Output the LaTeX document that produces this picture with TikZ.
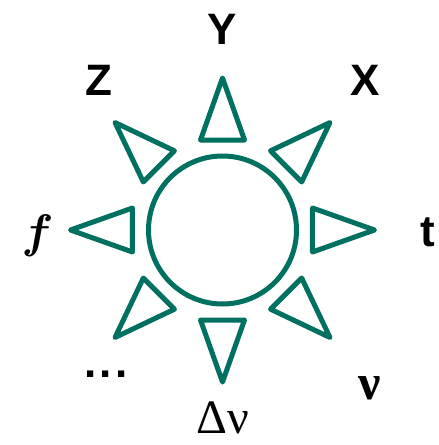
\documentclass[tikz,border=0pt]{standalone}
\usepackage{fontspec}
\setmainfont{Liberation Serif}
\setsansfont{Liberation Sans}
\usetikzlibrary{positioning}
\definecolor{rayTeal}{RGB}{0, 112, 96}

\begin{document}
\begin{tikzpicture}[x=1pt, y=1pt, thick]
    \tikzstyle{ray} = [draw=rayTeal, line width=5pt, line join=round]
    \tikzstyle{axis} = [font=\fontsize{44}{48}\selectfont\sffamily\bfseries, inner sep=0pt]
    \tikzstyle{greek} = [font=\fontsize{48}{52}\selectfont\rmfamily, inner sep=0pt]
    \useasboundingbox (-222.5,-215) rectangle (216.5,230);

    \node [circle, draw=rayTeal, line width=5pt, minimum size=148pt, inner sep=0pt] (sun) at (0,0) {};

    % eight rays round the sun
    \foreach \a in {0,45,...,315}
        \draw [ray] ([shift={(\a:90)}]\a+90:22) -- (\a:152) -- ([shift={(\a:90)}]\a-90:22) -- cycle;

    \node [axis] (y) at (0,201) {Y};
    \node [axis] (x) at (142.5,150) {X};
    \node [axis] (z) at (-123.5,150) {Z};
    \node [axis] (t) at (205.5,-2) {t};
    \node [inner sep=0pt] (f) at (-185,-6) {\scalebox{4.7}{\boldmath$f$}};
    \node [axis, anchor=base] (dots) at (-116.5,-147) {.\kern3.5pt.\kern3.5pt.};
    \node [greek, font=\fontsize{50}{54}\selectfont\rmfamily\bfseries] (nu) at (147.5,-158) {ν};
    \node [greek] (dnu) at (0,-188) {Δν};
\end{tikzpicture}
\end{document}
